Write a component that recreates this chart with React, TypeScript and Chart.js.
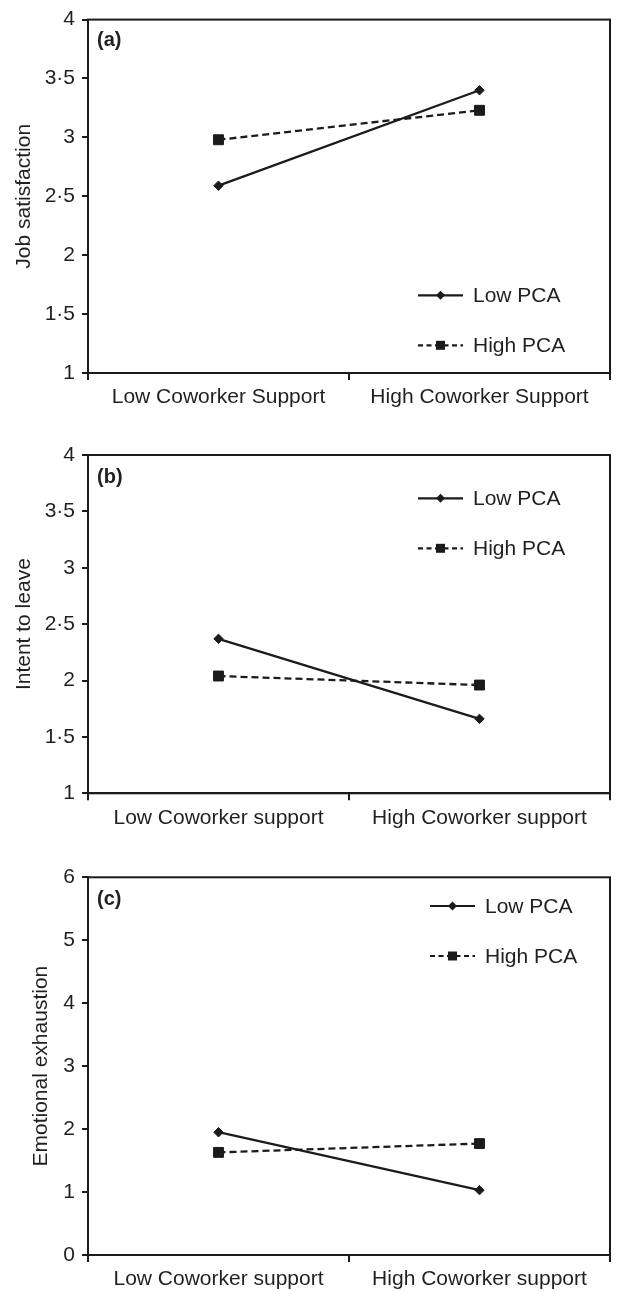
import React, { useEffect, useRef } from "react";
import { Chart, registerables } from "chart.js";

Chart.register(...registerables);

// ---------- data ----------
const categoriesA = ["Low Coworker Support", "High Coworker Support"];
const categoriesBC = ["Low Coworker support", "High Coworker support"];
const seriesNames = ["Low PCA", "High PCA"];

const jobSatisfactionLowPCA = [2.59, 3.4];
const jobSatisfactionHighPCA = [2.98, 3.23];

const intentToLeaveLowPCA = [2.37, 1.66];
const intentToLeaveHighPCA = [2.04, 1.96];

const exhaustionLowPCA = [1.95, 1.03];
const exhaustionHighPCA = [1.63, 1.77];

const yTicksAB = [1, 1.5, 2, 2.5, 3, 3.5, 4];
const yTicksC = [0, 1, 2, 3, 4, 5, 6];

// ---------- style ----------
const FONT = '"Liberation Sans", Arial, Helvetica, sans-serif';
const INK = "#1b1b1b";
const TEXT = "#231f20";

type PanelCfg = {
  letter: string;
  title: string;
  categories: string[];
  low: number[];
  high: number[];
  ticks: number[];
  top: number;
  height: number;
  areaTop: number;
  areaBottom: number;
  areaRight: number;
  titleCenterX: number;
  legendX: number;
  legendY: number;
  letterY: number;
};

const panels: PanelCfg[] = [
  {
    letter: "(a)",
    title: "Job satisfaction",
    categories: categoriesA,
    low: jobSatisfactionLowPCA,
    high: jobSatisfactionHighPCA,
    ticks: yTicksAB,
    top: 0,
    height: 420,
    areaTop: 14.3,
    areaBottom: 373,
    areaRight: 614,
    titleCenterX: 24,
    legendX: 418,
    legendY: 275.7,
    letterY: 20.5,
  },
  {
    letter: "(b)",
    title: "Intent to leave",
    categories: categoriesBC,
    low: intentToLeaveLowPCA,
    high: intentToLeaveHighPCA,
    ticks: yTicksAB,
    top: 420,
    height: 420,
    areaTop: 455,
    areaBottom: 793.3,
    areaRight: 614,
    titleCenterX: 24,
    legendX: 418,
    legendY: 43.3,
    letterY: 22.5,
  },
  {
    letter: "(c)",
    title: "Emotional exhaustion",
    categories: categoriesBC,
    low: exhaustionLowPCA,
    high: exhaustionHighPCA,
    ticks: yTicksC,
    top: 840,
    height: 452,
    areaTop: 877.3,
    areaBottom: 1255,
    areaRight: 611,
    titleCenterX: 41.5,
    legendX: 430,
    legendY: 28.7,
    letterY: 22.5,
  },
];

const X_SCALE_HEIGHT = 40;
const Y_SCALE_WIDTH = 88;
const TITLE_LINE = 21 * 1.2;

function drawMarker(ctx: CanvasRenderingContext2D, kind: number, x: number, y: number) {
  ctx.beginPath();
  if (kind === 0) {
    const r = 4.5;
    ctx.moveTo(x - r, y);
    ctx.lineTo(x, y - r);
    ctx.lineTo(x + r, y);
    ctx.lineTo(x, y + r);
    ctx.closePath();
  } else {
    const s = 4.5;
    ctx.rect(x - s, y - s, 2 * s, 2 * s);
  }
  ctx.fill();
}

function Panel({ cfg }: { cfg: PanelCfg }) {
  const ref = useRef<HTMLCanvasElement>(null);

  useEffect(() => {
    const canvas = ref.current;
    if (!canvas) return;

    const framePlugin = {
      id: "frame" + cfg.letter,
      afterDraw(chart: any) {
        const { ctx, chartArea } = chart;
        ctx.save();
        ctx.strokeStyle = INK;
        ctx.lineWidth = 2;
        ctx.strokeRect(
          chartArea.left,
          chartArea.top,
          chartArea.right - chartArea.left,
          chartArea.bottom - chartArea.top
        );
        // panel letter
        ctx.fillStyle = TEXT;
        ctx.font = `bold 20px ${FONT}`;
        ctx.textBaseline = "middle";
        ctx.textAlign = "left";
        ctx.fillText(cfg.letter, chartArea.left + 9, chartArea.top + cfg.letterY);
        // legend
        ctx.font = `21px ${FONT}`;
        seriesNames.forEach((name, i) => {
          const y = chartArea.top + cfg.legendY + i * 50;
          const x0 = cfg.legendX;
          const x1 = x0 + 45;
          ctx.strokeStyle = INK;
          ctx.lineWidth = 2.2;
          ctx.setLineDash(i === 0 ? [] : [5, 3.5]);
          ctx.beginPath();
          ctx.moveTo(x0, y);
          ctx.lineTo(x1, y);
          ctx.stroke();
          ctx.setLineDash([]);
          ctx.fillStyle = INK;
          drawMarker(ctx, i, (x0 + x1) / 2, y);
          ctx.fillStyle = TEXT;
          ctx.fillText(name, x1 + 10, y + 1);
        });
        ctx.restore();
      },
    };

    const yMin = cfg.ticks[0];
    const yMax = cfg.ticks[cfg.ticks.length - 1];
    const step = cfg.ticks[1] - cfg.ticks[0];

    const chart = new Chart(canvas, {
      type: "line",
      data: {
        labels: cfg.categories,
        datasets: [
          {
            label: seriesNames[0],
            data: cfg.low,
            borderColor: INK,
            backgroundColor: INK,
            borderWidth: 2.3,
            pointStyle: "rectRot",
            pointRadius: 4.7,
            pointBackgroundColor: INK,
            pointBorderColor: INK,
            pointBorderWidth: 1,
            fill: false,
            tension: 0,
          },
          {
            label: seriesNames[1],
            data: cfg.high,
            borderColor: INK,
            backgroundColor: INK,
            borderWidth: 2.3,
            borderDash: [7, 4],
            pointStyle: "rect",
            pointRadius: 7,
            pointBackgroundColor: INK,
            pointBorderColor: INK,
            pointBorderWidth: 1,
            fill: false,
            tension: 0,
          },
        ],
      },
      options: {
        animation: false,
        responsive: true,
        maintainAspectRatio: false,
        events: [],
        layout: {
          padding: {
            top: cfg.areaTop - cfg.top,
            bottom: cfg.top + cfg.height - cfg.areaBottom - X_SCALE_HEIGHT,
            left: 0,
            right: 618 - cfg.areaRight,
          },
        },
        plugins: {
          legend: { display: false },
          tooltip: { enabled: false },
        },
        scales: {
          x: {
            type: "category",
            offset: true,
            grid: {
              offset: true,
              drawOnChartArea: false,
              drawTicks: true,
              tickLength: 7,
              color: INK,
              lineWidth: 2,
            },
            border: { display: true, color: INK, width: 2 },
            ticks: {
              color: TEXT,
              font: { family: FONT, size: 21 },
              padding: 5,
              maxRotation: 0,
              autoSkip: false,
            },
            afterFit: (s: any) => {
              s.height = X_SCALE_HEIGHT;
            },
          },
          y: {
            min: yMin,
            max: yMax,
            grid: {
              drawOnChartArea: false,
              drawTicks: true,
              tickLength: 6,
              color: INK,
              lineWidth: 2,
            },
            border: { display: true, color: INK, width: 2 },
            ticks: {
              stepSize: step,
              padding: 7,
              color: TEXT,
              font: { family: FONT, size: 21 },
              callback: (v: any) => String(v).replace(".", "·"),
            },
            title: {
              display: true,
              text: cfg.title,
              color: TEXT,
              font: { family: FONT, size: 21, lineHeight: 1.2 },
              padding: { top: cfg.titleCenterX - TITLE_LINE / 2, bottom: 0 },
            },
            afterFit: (s: any) => {
              s.width = Y_SCALE_WIDTH;
            },
          },
        },
      },
      plugins: [framePlugin],
    } as any);

    return () => chart.destroy();
  }, [cfg]);

  return (
    <div
      style={{
        position: "absolute",
        left: 0,
        top: cfg.top,
        width: 618,
        height: cfg.height,
      }}
    >
      <canvas ref={ref} />
    </div>
  );
}

export default function App() {
  return (
    <div
      style={{
        position: "absolute",
        left: 0,
        top: 0,
        width: 618,
        height: 1292,
        background: "#ffffff",
      }}
    >
      {panels.map((p) => (
        <Panel key={p.letter} cfg={p} />
      ))}
    </div>
  );
}
